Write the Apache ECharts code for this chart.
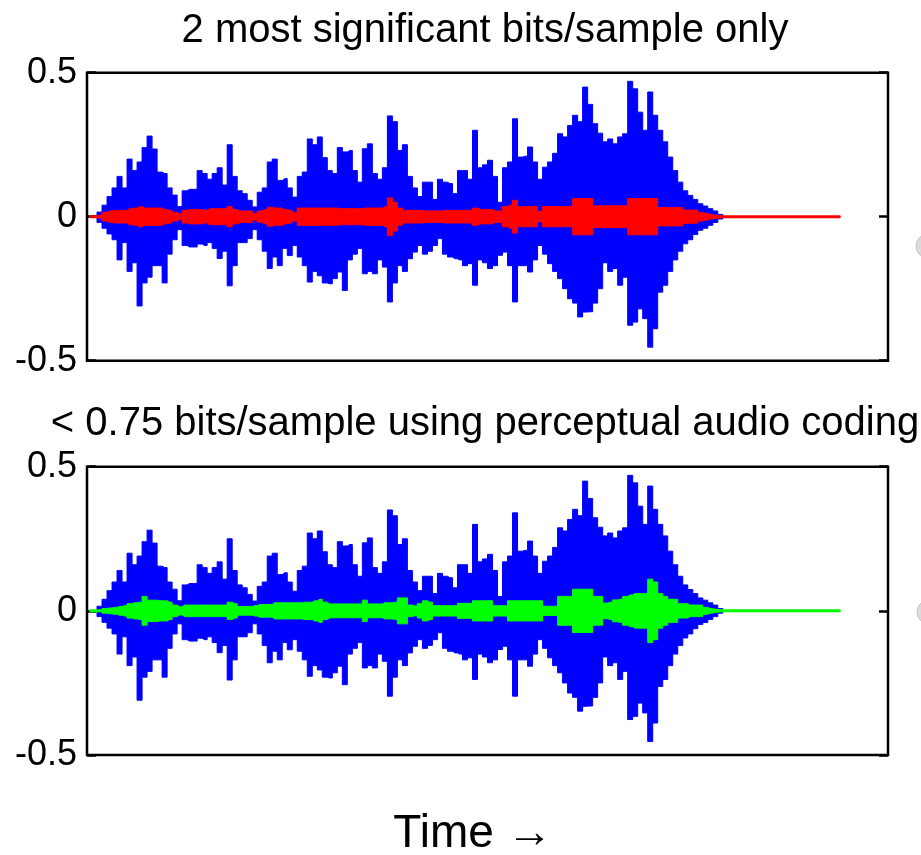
<!DOCTYPE html>
<html>
<head>
<meta charset="utf-8">
<script src="https://cdn.jsdelivr.net/npm/echarts@6/dist/echarts.min.js"></script>
<style>
  html, body { margin: 0; padding: 0; background: #fff; }
  #chart { width: 921px; height: 855px; }
</style>
</head>
<body>
<div id="chart"></div>
<script>
// ---------- text ----------
const titleTop = '2 most significant bits/sample only';
const titleBottom = '< 0.75 bits/sample using perceptual audio coding';
const xAxisTitle = 'Time \u2192';

// ---------- y-axis ticks ----------
const yMin = -0.5, yMax = 0.5, yStep = 0.5;

// ---------- waveform data (one value per time column) ----------
// upper envelope of the original signal (blue)
const blueHi = [0, 0, 0.016, 0.04, 0.07, 0.10, 0.14, 0.10, 0.20, 0.16,
  0.19, 0.24, 0.28, 0.235, 0.155, 0.15, 0.10, 0.075, 0.035, 0.09,
  0.095, 0.095, 0.16, 0.15, 0.13, 0.15, 0.17, 0.11, 0.25, 0.14,
  0.09, 0.08, 0.057, 0.034, 0.085, 0.10, 0.19, 0.20, 0.126, 0.132,
  0.10, 0.068, 0.14, 0.155, 0.27, 0.25, 0.277, 0.205, 0.16, 0.15,
  0.24, 0.225, 0.23, 0.16, 0.12, 0.236, 0.253, 0.15, 0.13, 0.17,
  0.35, 0.33, 0.23, 0.25, 0.14, 0.10, 0.07, 0.12, 0.12, 0.06,
  0.13, 0.12, 0.115, 0.08, 0.16, 0.16, 0.13, 0.30, 0.17, 0.18,
  0.196, 0.14, 0.05, 0.17, 0.19, 0.34, 0.207, 0.21, 0.242, 0.19,
  0.13, 0.172, 0.19, 0.22, 0.288, 0.277, 0.317, 0.352, 0.33, 0.45,
  0.39, 0.323, 0.29, 0.26, 0.27, 0.253, 0.277, 0.288, 0.47, 0.444,
  0.363, 0.30, 0.433, 0.352, 0.30, 0.26, 0.207, 0.16, 0.12, 0.09,
  0.074, 0.06, 0.045, 0.037, 0.028, 0.02, 0.008, 0];
// lower envelope of the original signal (blue)
const blueLo = [0, 0, -0.02, -0.04, -0.06, -0.08, -0.15, -0.09, -0.19, -0.16,
  -0.31, -0.23, -0.21, -0.17, -0.17, -0.23, -0.13, -0.08, -0.045, -0.10,
  -0.105, -0.105, -0.095, -0.10, -0.09, -0.11, -0.145, -0.12, -0.24, -0.17,
  -0.09, -0.09, -0.076, -0.045, -0.08, -0.12, -0.18, -0.14, -0.17, -0.11,
  -0.135, -0.10, -0.14, -0.17, -0.227, -0.19, -0.205, -0.23, -0.233, -0.215,
  -0.192, -0.256, -0.15, -0.13, -0.11, -0.198, -0.19, -0.198, -0.15, -0.175,
  -0.296, -0.23, -0.17, -0.19, -0.146, -0.123, -0.10, -0.13, -0.12, -0.10,
  -0.076, -0.13, -0.14, -0.146, -0.15, -0.17, -0.163, -0.238, -0.15, -0.16,
  -0.18, -0.17, -0.134, -0.123, -0.17, -0.296, -0.17, -0.17, -0.192, -0.15,
  -0.10, -0.13, -0.163, -0.19, -0.215, -0.25, -0.285, -0.30, -0.348, -0.331,
  -0.33, -0.30, -0.25, -0.16, -0.19, -0.18, -0.238, -0.21, -0.377, -0.366,
  -0.32, -0.354, -0.453, -0.389, -0.262, -0.238, -0.19, -0.15, -0.12, -0.094,
  -0.08, -0.062, -0.047, -0.04, -0.03, -0.02, -0.008, 0];
// amplitude of the 2-bit quantised signal (red); zeros = silent tail
const redAmp = [0, 0, 0.005, 0.015, 0.02, 0.022, 0.022, 0.022, 0.028, 0.03,
  0.035, 0.03, 0.03, 0.03, 0.03, 0.025, 0.022, 0.015, 0.01, 0.022,
  0.025, 0.025, 0.025, 0.022, 0.028, 0.028, 0.028, 0.028, 0.035, 0.025,
  0.02, 0.02, 0.02, 0.012, 0.02, 0.025, 0.033, 0.03, 0.03, 0.025,
  0.022, 0.015, 0.03, 0.03, 0.03, 0.03, 0.03, 0.03, 0.03, 0.03,
  0.028, 0.028, 0.028, 0.028, 0.028, 0.03, 0.03, 0.03, 0.03, 0.035,
  0.065, 0.05, 0.03, 0.022, 0.022, 0.022, 0.022, 0.02, 0.02, 0.02,
  0.02, 0.022, 0.022, 0.022, 0.022, 0.022, 0.022, 0.03, 0.025, 0.025,
  0.025, 0.02, 0.02, 0.035, 0.04, 0.057, 0.035, 0.035, 0.035, 0.035,
  0.018, 0.035, 0.035, 0.035, 0.035, 0.035, 0.035, 0.063, 0.063, 0.063,
  0.063, 0.038, 0.038, 0.038, 0.038, 0.038, 0.038, 0.038, 0.063, 0.063,
  0.063, 0.063, 0.063, 0.063, 0.032, 0.032, 0.032, 0.032, 0.032, 0.023,
  0.023, 0.023, 0.015, 0.012, 0.008, 0.005, 0.003, 0, 0, 0,
  0, 0, 0, 0, 0, 0, 0, 0, 0, 0,
  0, 0, 0, 0, 0, 0, 0, 0, 0, 0,
  0];
// amplitude of the perceptually coded signal (green); zeros = silent tail
const greenAmp = [0, 0, 0, 0.008, 0.01, 0.012, 0.015, 0.018, 0.025, 0.028,
  0.03, 0.05, 0.037, 0.037, 0.035, 0.035, 0.03, 0.02, 0.014, 0.02,
  0.02, 0.02, 0.02, 0.02, 0.02, 0.02, 0.02, 0.02, 0.03, 0.025,
  0.015, 0.015, 0.015, 0.018, 0.022, 0.022, 0.022, 0.028, 0.028, 0.028,
  0.028, 0.028, 0.028, 0.03, 0.03, 0.035, 0.04, 0.03, 0.024, 0.024,
  0.024, 0.024, 0.024, 0.024, 0.024, 0.037, 0.024, 0.024, 0.024, 0.028,
  0.028, 0.03, 0.045, 0.045, 0.02, 0.017, 0.025, 0.035, 0.03, 0.018,
  0.018, 0.018, 0.018, 0.018, 0.026, 0.026, 0.026, 0.035, 0.035, 0.035,
  0.035, 0.018, 0.018, 0.018, 0.035, 0.035, 0.035, 0.035, 0.035, 0.035,
  0.035, 0.016, 0.016, 0.016, 0.05, 0.05, 0.05, 0.075, 0.075, 0.075,
  0.075, 0.05, 0.05, 0.027, 0.03, 0.038, 0.04, 0.05, 0.055, 0.06,
  0.06, 0.06, 0.11, 0.10, 0.06, 0.05, 0.04, 0.04, 0.025, 0.025,
  0.02, 0.02, 0.02, 0.012, 0.008, 0.005, 0.003, 0, 0, 0,
  0, 0, 0, 0, 0, 0, 0, 0, 0, 0,
  0, 0, 0, 0, 0, 0, 0, 0, 0, 0,
  0];
const columnCount = 160;
const columns = Array.from({ length: columnCount }, (_, i) => String(i));

// ---------- build ----------
const FONT = '"Liberation Sans", Arial, Helvetica, sans-serif';
const BLUE = '#0000ff', RED = '#ff0000', GREEN = '#00ff00';

function envSeries(gi, data, color, z) {
  return {
    type: 'line', step: 'middle', xAxisIndex: gi, yAxisIndex: gi * 2, data: data,
    showSymbol: false, silent: true, z: z,
    lineStyle: { color: color, width: 1 },
    areaStyle: { color: color, opacity: 1, origin: 'auto' }
  };
}
function plotSeries(gi, amp, color) {
  return [
    envSeries(gi, blueHi, BLUE, 2),
    envSeries(gi, blueLo, BLUE, 2),
    envSeries(gi, amp, color, 3),
    envSeries(gi, amp.map(v => -v), color, 3),
    {
      type: 'line', xAxisIndex: gi, yAxisIndex: gi * 2,
      data: amp.map(() => 0), showSymbol: false, silent: true, z: 4,
      lineStyle: { color: color, width: 3 }
    }
  ];
}
function xAxis(gi) {
  return {
    type: 'category', gridIndex: gi, data: columns, boundaryGap: true,
    axisLine: { show: false }, axisTick: { show: false }, axisLabel: { show: false },
    splitLine: { show: false }
  };
}
function yAxis(gi, side) {
  return {
    type: 'value', gridIndex: gi, position: side, min: yMin, max: yMax, interval: yStep,
    axisLine: { show: false },
    axisTick: { show: true, inside: true, length: 9, lineStyle: { color: '#000', width: 2.5 } },
    axisLabel: {
      show: side === 'left', color: '#000', fontSize: 36, fontFamily: FONT, margin: 10,
      formatter: v => String(v)
    },
    splitLine: { show: false }
  };
}

const chart = echarts.init(document.getElementById('chart'), null, { renderer: 'canvas' });
chart.setOption({
  animation: false,
  backgroundColor: '#ffffff',
  grid: [
    { left: 87, right: 33, top: 72.7, height: 288, show: true, borderColor: '#000', borderWidth: 2.5, backgroundColor: 'transparent' },
    { left: 87, right: 33, top: 466.7, height: 288.3, show: true, borderColor: '#000', borderWidth: 2.5, backgroundColor: 'transparent' }
  ],
  xAxis: [xAxis(0), xAxis(1)],
  yAxis: [yAxis(0, 'left'), yAxis(0, 'right'), yAxis(1, 'left'), yAxis(1, 'right')],
  series: [].concat(plotSeries(0, redAmp, RED), plotSeries(1, greenAmp, GREEN)),
  graphic: [
    { type: 'text', x: 485, y: 31, style: { text: titleTop, font: '40px ' + FONT, fill: '#000', textAlign: 'center', textVerticalAlign: 'middle' } },
    { type: 'text', x: 485, y: 424, style: { text: titleBottom, font: '40px ' + FONT, fill: '#000', textAlign: 'center', textVerticalAlign: 'middle' } },
    { type: 'text', x: 473, y: 834, style: { text: xAxisTitle, font: '46px ' + FONT, fill: '#000', textAlign: 'center', textVerticalAlign: 'middle' } },
    { type: 'circle', shape: { cx: 928, cy: 246, r: 12 }, style: { fill: '#dcdcdc', stroke: '#c4c4c4', lineWidth: 1 }, silent: true },
    { type: 'circle', shape: { cx: 929, cy: 612, r: 12 }, style: { fill: '#dcdcdc', stroke: '#c4c4c4', lineWidth: 1 }, silent: true }
  ]
});
</script>
</body>
</html>
